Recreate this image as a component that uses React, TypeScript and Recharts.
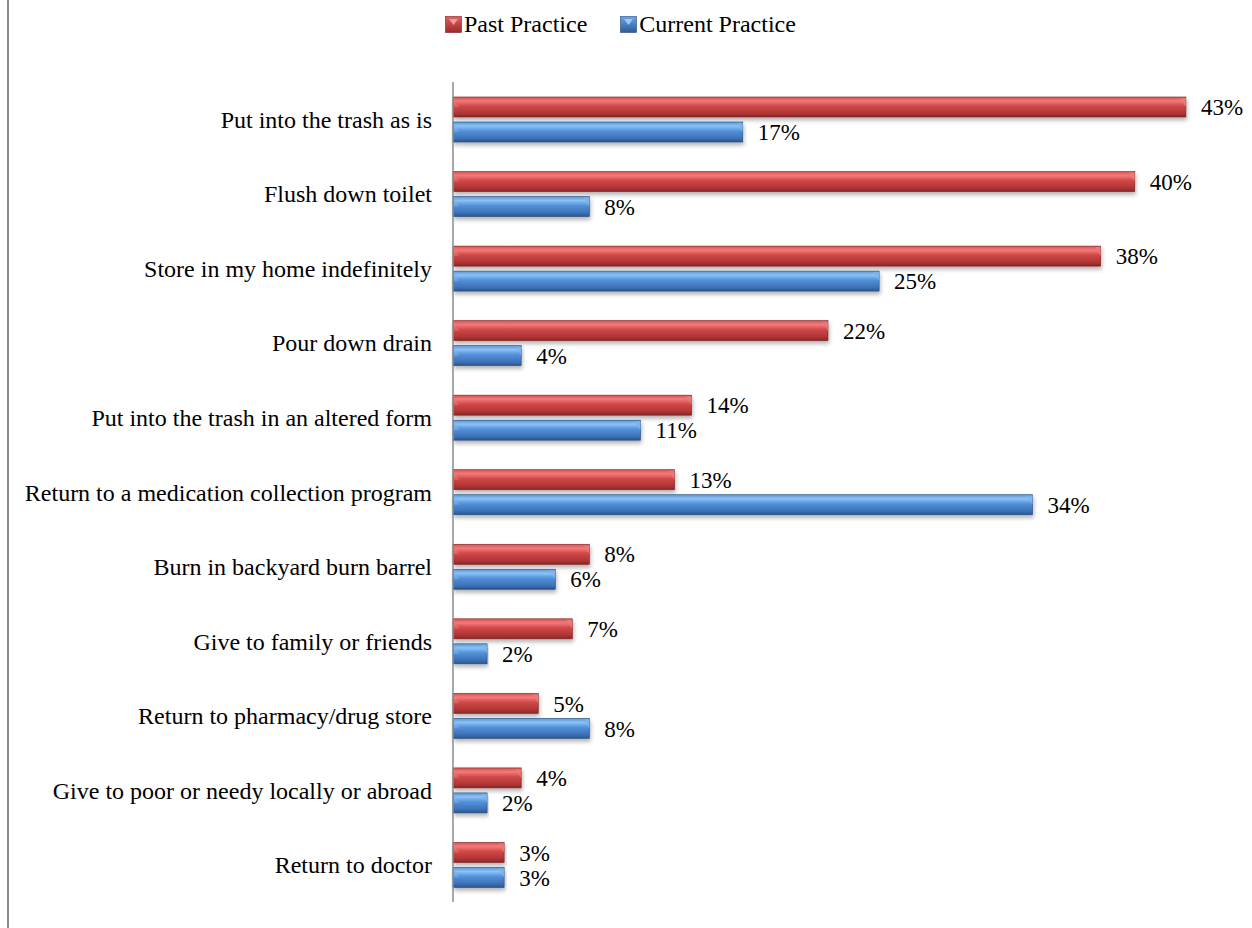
import { Bar, BarChart, LabelList, XAxis, YAxis } from 'recharts';

const categories = [
  'Put into the trash as is',
  'Flush down toilet',
  'Store in my home indefinitely',
  'Pour down drain',
  'Put into the trash in an altered form',
  'Return to a medication collection program',
  'Burn in backyard burn barrel',
  'Give to family or friends',
  'Return to pharmacy/drug store',
  'Give to poor or needy locally or abroad',
  'Return to doctor',
];
const pastPractice = [43, 40, 38, 22, 14, 13, 8, 7, 5, 4, 3];
const currentPractice = [17, 8, 25, 4, 11, 34, 6, 2, 8, 2, 3];

const data = categories.map((name, i) => ({
  name,
  past: pastPractice[i],
  current: currentPractice[i],
}));

const FONT = 'Liberation Serif, DejaVu Serif, serif';

function BevelBar(props: any) {
  const { x, y, width, height, kind } = props;
  if (!width || width <= 0) return null;
  const edge = kind === 'past' ? '#7a1e1e' : '#24487a';
  const cap = kind === 'past' ? '#e77c7c' : '#7fb4ea';
  const w = Math.max(width, 0);
  const b = Math.min(6, w / 2);
  return (
    <g filter="url(#barShadow)">
      <rect x={x} y={y} width={w} height={height} fill={`url(#grad-${kind})`} stroke={edge} strokeWidth={0.6} />
      <polygon
        points={`${x + w - b},${y + 1} ${x + w},${y + 1} ${x + w},${y + height / 2} `}
        fill={cap}
        opacity={0.8}
      />
      <polygon
        points={`${x + 1},${y + 1} ${x + b},${y + height / 2} ${x + 1},${y + height / 2}`}
        fill={cap}
        opacity={0.5}
      />
    </g>
  );
}

function LegendBox() {
  const item = (kind: string, label: string, mr: number) => (
    <span style={{ display: 'inline-flex', alignItems: 'center', marginRight: mr }}>
      <svg width={17} height={17} style={{ marginRight: 2 }}>
        <rect x={0.5} y={0.5} width={16} height={16} fill={`url(#lg-${kind})`} stroke={kind === 'past' ? '#7a1e1e' : '#24487a'} strokeWidth={0.6} />
        <polygon points="4,3 13,3 8.5,9" fill={kind === 'past' ? '#f29a9a' : '#9ccaf5'} />
      </svg>
      {label}
    </span>
  );
  return (
    <div
      style={{
        position: 'absolute',
        left: 445,
        top: 10,
        fontFamily: FONT,
        fontSize: 24,
        lineHeight: '28px',
        color: '#000',
        display: 'flex',
      }}
    >
      <svg width={0} height={0} style={{ position: 'absolute' }}>
        <defs>
          <linearGradient id="lg-past" x1="0" y1="0" x2="0" y2="1">
            <stop offset="0%" stopColor="#e06060" />
            <stop offset="100%" stopColor="#9c2a2a" />
          </linearGradient>
          <linearGradient id="lg-current" x1="0" y1="0" x2="0" y2="1">
            <stop offset="0%" stopColor="#6aa6e6" />
            <stop offset="100%" stopColor="#2c5a96" />
          </linearGradient>
        </defs>
      </svg>
      {item('past', 'Past Practice', 33)}
      {item('current', 'Current Practice', 0)}
    </div>
  );
}

export default function App() {
  return (
    <div style={{ position: 'absolute', left: 0, top: 0, width: 1252, height: 928, background: '#fff' }}>
      <div style={{ position: 'absolute', left: 7, top: 0, width: 2, height: 928, background: '#8c8c8c' }} />
      <LegendBox />
      <BarChart
        width={1252}
        height={928}
        data={data}
        layout="vertical"
        margin={{ top: 82, right: 32, bottom: 26, left: 0 }}
        barSize={20}
        barGap={5}
      >
        <defs>
          <linearGradient id="grad-past" x1="0" y1="0" x2="0" y2="1">
            <stop offset="0%" stopColor="#d65454" />
            <stop offset="20%" stopColor="#f47a7a" />
            <stop offset="45%" stopColor="#d04848" />
            <stop offset="80%" stopColor="#b23636" />
            <stop offset="100%" stopColor="#8a2626" />
          </linearGradient>
          <linearGradient id="grad-current" x1="0" y1="0" x2="0" y2="1">
            <stop offset="0%" stopColor="#5b95d8" />
            <stop offset="20%" stopColor="#8cc2f4" />
            <stop offset="45%" stopColor="#5291da" />
            <stop offset="80%" stopColor="#3d73b8" />
            <stop offset="100%" stopColor="#2b5590" />
          </linearGradient>
          <filter id="barShadow" x="-5%" y="-20%" width="110%" height="160%">
            <feGaussianBlur in="SourceAlpha" stdDeviation="2" />
            <feOffset dx="1" dy="3" result="off" />
            <feComponentTransfer>
              <feFuncA type="linear" slope="0.3" />
            </feComponentTransfer>
            <feMerge>
              <feMergeNode />
              <feMergeNode in="SourceGraphic" />
            </feMerge>
          </filter>
        </defs>
        <XAxis type="number" domain={[0, 45]} hide />
        <YAxis
          type="category"
          dataKey="name"
          width={453}
          tickLine={false}
          tickSize={0}
          tickMargin={21}
          axisLine={{ stroke: '#8c8c8c', strokeWidth: 1.5 }}
          tick={{ fill: '#000', fontSize: 24, fontFamily: FONT }}
          interval={0}
        />
        <Bar
          dataKey="past"
          name="Past Practice"
          isAnimationActive={false}
          shape={(p: any) => <BevelBar {...p} kind="past" />}
        >
          <LabelList
            dataKey="past"
            position="right"
            offset={15}
            formatter={(v: any) => `${v}%`}
            style={{ fill: '#000', fontSize: 23, fontFamily: FONT }}
          />
        </Bar>
        <Bar
          dataKey="current"
          name="Current Practice"
          isAnimationActive={false}
          shape={(p: any) => <BevelBar {...p} kind="current" />}
        >
          <LabelList
            dataKey="current"
            position="right"
            offset={15}
            formatter={(v: any) => `${v}%`}
            style={{ fill: '#000', fontSize: 23, fontFamily: FONT }}
          />
        </Bar>
      </BarChart>
    </div>
  );
}
